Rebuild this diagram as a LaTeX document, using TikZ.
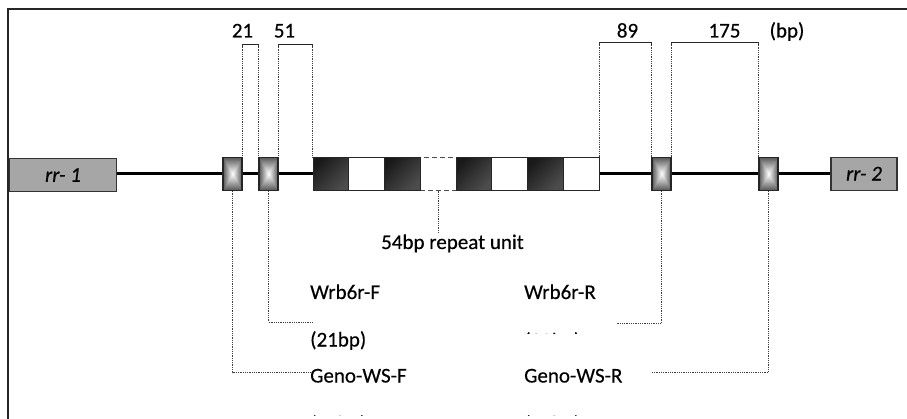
\documentclass[tikz,border=0pt]{standalone}
\usepackage{fontspec}
\setmainfont{Carlito}[FakeBold=0.35]
\usetikzlibrary{calc}
\pgfdeclarefunctionalshading{boxglow}{\pgfpoint{-50bp}{-50bp}}{\pgfpoint{50bp}{50bp}}{}{abs exch abs 2 copy lt {exch} if pop 25 div dup 1 gt {pop 1} if 0.66 mul 1 exch sub dup dup}
\definecolor{framec}{HTML}{262626}
\definecolor{genegray}{HTML}{A6A6A6}
\begin{document}
\begin{tikzpicture}[x=1pt,y=-1pt,
  lbl/.style={font=\fontsize{21}{25}\selectfont, inner sep=0pt, text=black},
  glowbox/.style={draw=black!85, line width=1.2pt, shading=boxglow, minimum width=19pt, minimum height=33pt, inner sep=0pt},
  blk/.style={draw=black!85, line width=1pt, minimum width=35.75pt, minimum height=33pt, inner sep=0pt},
  darkblk/.style={blk, top color=black!90, bottom color=black!70, shading angle=45},
  whiteblk/.style={blk, fill=white},
  dashblk/.style={blk, draw=black!70, dash pattern=on 5pt off 3pt, fill=white},
  gene/.style={draw=black!80, line width=1.2pt, fill=genegray, minimum height=33pt, inner sep=0pt, font=\fontsize{21}{25}\selectfont\itshape},
  backbone/.style={line width=3pt, black},
  dots/.style={densely dotted, line width=0.8pt, black!75},
  dimbar/.style={line width=1pt, black!85}]
\clip (0,0) rectangle (907,419);
% frame
\draw[framec, line width=2pt] (8,420) -- (8,9.5) -- (908,9.5);
% genes
\node[gene, minimum width=107.5pt] (rr1) at (63,175) {rr- 1};
\node[gene, minimum width=66pt] (rr2) at (864,173.7) {rr- 2};
% glow boxes
\node[glowbox] (b1) at (232.5,173.7) {};
\node[glowbox] (b2) at (268.5,173.7) {};
\node[glowbox] (b3) at (661.5,173.7) {};
\node[glowbox] (b4) at (768.5,173.7) {};
% repeat blocks
\node[dashblk] (r4) at (438.125,173.7) {};
\node[darkblk] (r1) at (330.875,173.7) {};
\node[whiteblk] (r2) at (366.625,173.7) {};
\node[darkblk] (r3) at (402.375,173.7) {};
\node[darkblk] (r5) at (473.875,173.7) {};
\node[whiteblk] (r6) at (509.625,173.7) {};
\node[darkblk] (r7) at (545.375,173.7) {};
\node[whiteblk] (r8) at (581.125,173.7) {};
% backbone
\draw[backbone] (rr1.east |- b1.west) -- (b1.west);
\draw[backbone] (b1.east) -- (b2.west);
\draw[backbone] (b2.east) -- (r1.west);
\draw[backbone] (r8.east) -- (b3.west);
\draw[backbone] (b3.east) -- (b4.west);
\draw[backbone] (b4.east) -- (rr2.west);
% top dimension labels
\node[lbl, anchor=base] (t21) at (242.5,37.5) {21};
\node[lbl, anchor=base] (t51) at (284.5,37.5) {51};
\node[lbl, anchor=base] (t89) at (627.5,37.5) {89};
\node[lbl, anchor=base] (t175) at (724.5,37.5) {175};
\node[lbl, anchor=base] (tbp) at (787,37.5) {(bp)};
% dimension bars
\coordinate (d1a) at (b1.north east |- 0,45);
\coordinate (d1b) at (b2.north west |- 0,45);
\coordinate (d2a) at (b2.north east |- 0,45);
\coordinate (d2b) at (r1.north west |- 0,45);
\coordinate (d3a) at (r8.north east |- 0,43);
\coordinate (d3b) at (b3.north west |- 0,43);
\coordinate (d4a) at (b3.north east |- 0,43);
\coordinate (d4b) at (b4.north west |- 0,43);
\foreach \a/\b in {d1a/d1b, d2a/d2b, d3a/d3b, d4a/d4b}{
  \draw[dimbar] ($(\a)+(0,3)$) -- (\a) -- (\b) -- ++(0,3);
}
\draw[dots] (d1a) -- (b1.north east);
\draw[dots] (d1b) -- (b2.north west);
\draw[dots] (d2a) -- (b2.north east);
\draw[dots] (d2b) -- (r1.north west);
\draw[dots] (d3a) -- (r8.north east);
\draw[dots] (d3b) -- (b3.north west);
\draw[dots] (d4a) -- (b3.north east);
\draw[dots] (d4b) -- (b4.north west);
% lower labels
\node[lbl, anchor=base west] (rep) at (381,249) {54bp repeat unit};
\node[lbl, anchor=base west] (wf) at (310,299) {Wrb6r-F};
\node[lbl, anchor=base west] (bpf) at (310,346.5) {(21bp)};
\node[lbl, anchor=base west] (gf) at (310,382.5) {Geno-WS-F};
\node[lbl, anchor=base west] (wr) at (524,299) {Wrb6r-R};
\node[lbl, anchor=base west] (bpr) at (524,347.5) {(20bp)};
\node[lbl, anchor=base west] (gr) at (524,382.5) {Geno-WS-R};
\node[lbl, anchor=base west] (bpgf) at (310,430.5) {(22bp)};
\node[lbl, anchor=base west] (bpgr) at (524,430.5) {(20bp)};
% covers hiding the lower parts of the partly hidden labels
\fill[white] (518,333.8) rectangle (592,362);
\fill[white] (300,416.4) rectangle (600,425);
% lower connectors
\coordinate (wfe) at (313,322);
\coordinate (wre) at (616,323);
\coordinate (gre) at (652,372);
\draw[dots] (r4.south) -- ([yshift=1pt]r4.south |- rep.north);
\draw[dots] (b2.south) |- (wfe);
\draw[dots] (b1.south) |- ([yshift=3pt]gf.west);
\draw[dots] (b3.south) |- (wre);
\draw[dots] (b4.south) |- (gre);
\end{tikzpicture}
\end{document}
